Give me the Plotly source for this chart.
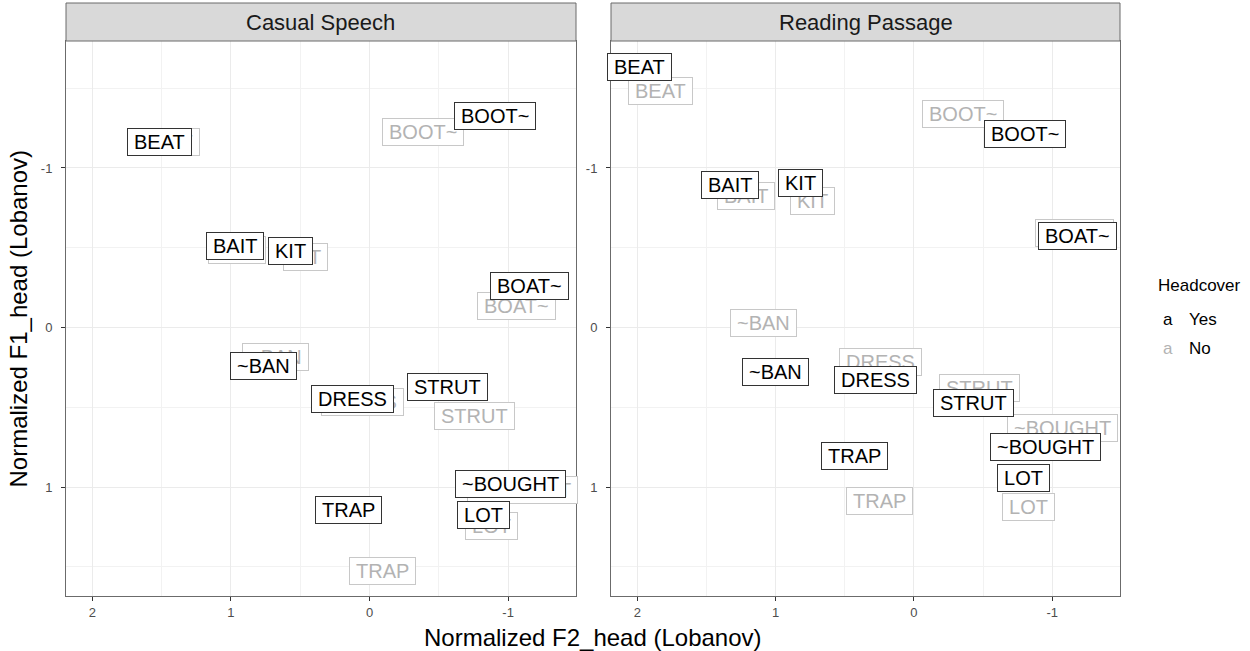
import plotly.graph_objects as go

# ---------------- data ----------------
vowels = ["BEAT", "BAIT", "KIT", "BOOT~", "BOAT~", "~BAN", "DRESS", "STRUT", "~BOUGHT", "TRAP", "LOT"]
facets = ["Casual Speech", "Reading Passage"]
headcover_levels = ["Yes", "No"]

# Normalized F2_head (Lobanov)
casual_yes_f2 = [1.516, 0.973, 0.569, -0.907, -1.155, 0.763, 0.123, -0.560, -1.014, 0.155, -0.820]
casual_no_f2 = [1.458, 0.955, 0.464, -0.387, -1.059, 0.678, 0.054, -0.761, -1.105, -0.092, -0.882]
reading_yes_f2 = [1.986, 1.329, 0.822, -0.801, -1.181, 0.999, 0.278, -0.432, -0.953, 0.429, -0.793]
reading_no_f2 = [1.835, 1.211, 0.735, -0.353, -1.162, 1.089, 0.241, -0.471, -1.071, 0.252, -0.827]

# Normalized F1_head (Lobanov)
casual_yes_f1 = [-1.162, -0.509, -0.478, -1.326, -0.260, 0.242, 0.451, 0.371, 0.979, 1.141, 1.176]
casual_no_f1 = [-1.164, -0.483, -0.440, -1.223, -0.136, 0.186, 0.470, 0.553, 1.019, 1.526, 1.243]
reading_yes_f1 = [-1.633, -0.894, -0.907, -1.210, -0.571, 0.279, 0.329, 0.472, 0.746, 0.806, 0.942]
reading_no_f1 = [-1.480, -0.822, -0.796, -1.340, -0.595, -0.030, 0.219, 0.378, 0.632, 1.087, 1.122]

x_ticks = [2, 1, 0, -1]
y_ticks = [-1, 0, 1]

# ---------------- style ----------------
W, H = 1250, 651
FONT = "Liberation Sans, Arial, Helvetica, sans-serif"
YES_COL = "#000000"
NO_COL = "#B3B3B3"
BORDER = "#6B6B6B"


def px_x(p):
    return p / W


def px_y(p):
    return 1 - p / H


panel_left = [66, 611]
panel_right = [576, 1120]
panel_top, panel_bottom = 41, 596
strip_top = 3

fig = go.Figure()

axis_common = dict(
    range=[2.19, -1.49],
    tickvals=x_ticks,
    ticktext=[str(v) for v in x_ticks],
    showgrid=True,
    gridcolor="#EBEBEB",
    gridwidth=1.1,
    zeroline=False,
    showline=True,
    mirror=True,
    linecolor=BORDER,
    linewidth=1,
    ticks="outside",
    ticklen=4,
    tickcolor="#333333",
    tickfont=dict(family=FONT, size=13, color="#4D4D4D"),
    minor=dict(tickvals=[1.5, 0.5, -0.5], showgrid=True, gridcolor="#F2F2F2", gridwidth=0.6, ticks=""),
    fixedrange=True,
)
yaxis_common = dict(
    range=[1.683, -1.796],
    tickvals=y_ticks,
    ticktext=[str(v) for v in y_ticks],
    showgrid=True,
    gridcolor="#EBEBEB",
    gridwidth=1.1,
    zeroline=False,
    showline=True,
    mirror=True,
    linecolor=BORDER,
    linewidth=1,
    ticks="outside",
    ticklen=4,
    tickcolor="#333333",
    tickfont=dict(family=FONT, size=13, color="#4D4D4D"),
    ticklabelstandoff=6,
    minor=dict(tickvals=[-1.5, -0.5, 0.5, 1.5], showgrid=True, gridcolor="#F2F2F2", gridwidth=0.6, ticks=""),
    fixedrange=True,
)

fig.update_layout(
    width=W,
    height=H,
    margin=dict(l=0, r=0, t=0, b=0),
    paper_bgcolor="white",
    plot_bgcolor="white",
    showlegend=False,
    xaxis=dict(axis_common, domain=[px_x(panel_left[0]), px_x(panel_right[0])], anchor="y"),
    yaxis=dict(yaxis_common, domain=[px_y(panel_bottom), px_y(panel_top)], anchor="x"),
    xaxis2=dict(axis_common, domain=[px_x(panel_left[1]), px_x(panel_right[1])], anchor="y2"),
    yaxis2=dict(yaxis_common, domain=[px_y(panel_bottom), px_y(panel_top)], anchor="x2"),
)

# invisible traces so the axes are drawn
fig.add_trace(go.Scatter(x=casual_yes_f2, y=casual_yes_f1, mode="markers", marker=dict(opacity=0), xaxis="x", yaxis="y", hoverinfo="skip"))
fig.add_trace(go.Scatter(x=reading_yes_f2, y=reading_yes_f1, mode="markers", marker=dict(opacity=0), xaxis="x2", yaxis="y2", hoverinfo="skip"))

annotations = []
TS = "\u2009"


def add_labels(xs, ys, color, border, xref, yref):
    for v, xv, yv in zip(vowels, xs, ys):
        annotations.append(dict(
            x=xv, y=yv, xref=xref, yref=yref, text=TS + v + TS, showarrow=False,
            font=dict(family=FONT, size=20, color=color),
            bgcolor="white", bordercolor=border, borderwidth=1, borderpad=2,
            xanchor="center", yanchor="middle",
        ))


# grey ("No") first, black ("Yes") on top
add_labels(casual_no_f2, casual_no_f1, NO_COL, "#C8C8C8", "x", "y")
add_labels(casual_yes_f2, casual_yes_f1, YES_COL, "#333333", "x", "y")
add_labels(reading_no_f2, reading_no_f1, NO_COL, "#C8C8C8", "x2", "y2")
add_labels(reading_yes_f2, reading_yes_f1, YES_COL, "#333333", "x2", "y2")

# facet strips
shapes = []
for i, name in enumerate(facets):
    shapes.append(dict(
        type="rect", xref="paper", yref="paper",
        x0=px_x(panel_left[i]), x1=px_x(panel_right[i]),
        y0=px_y(panel_top), y1=px_y(strip_top),
        fillcolor="#D9D9D9", line=dict(color=BORDER, width=1), layer="above",
    ))
    annotations.append(dict(
        x=px_x((panel_left[i] + panel_right[i]) / 2), y=px_y((strip_top + panel_top) / 2),
        xref="paper", yref="paper", text=name, showarrow=False,
        font=dict(family=FONT, size=22, color="#1A1A1A"),
        xanchor="center", yanchor="middle",
    ))

# axis titles
annotations.append(dict(
    x=px_x((panel_left[0] + panel_right[1]) / 2), y=px_y(637), xref="paper", yref="paper",
    text="Normalized F2_head (Lobanov)", showarrow=False,
    font=dict(family=FONT, size=24, color="#000000"), xanchor="center", yanchor="middle",
))
annotations.append(dict(
    x=px_x(18), y=px_y((panel_top + panel_bottom) / 2), xref="paper", yref="paper",
    text="Normalized F1_head (Lobanov)", showarrow=False, textangle=-90,
    font=dict(family=FONT, size=24, color="#000000"), xanchor="center", yanchor="middle",
))

# legend
annotations.append(dict(
    x=px_x(1156), y=px_y(285), xref="paper", yref="paper", text="Headcover", showarrow=False,
    font=dict(family=FONT, size=17, color="#000000"), xanchor="left", yanchor="middle",
))
for lvl, col, yy in zip(headcover_levels, [YES_COL, NO_COL], [319, 348]):
    annotations.append(dict(
        x=px_x(1168), y=px_y(yy), xref="paper", yref="paper", text="a", showarrow=False,
        font=dict(family=FONT, size=17, color=col), xanchor="center", yanchor="middle",
    ))
    annotations.append(dict(
        x=px_x(1187), y=px_y(yy), xref="paper", yref="paper", text=lvl, showarrow=False,
        font=dict(family=FONT, size=17, color="#000000"), xanchor="left", yanchor="middle",
    ))

fig.update_layout(annotations=annotations, shapes=shapes)

fig.write_html("out.html")
